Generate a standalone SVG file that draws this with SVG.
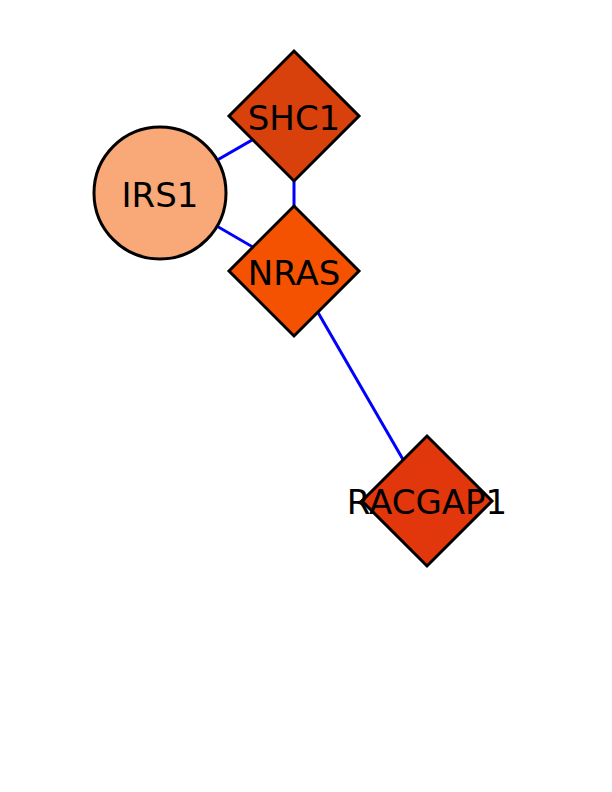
<svg xmlns="http://www.w3.org/2000/svg" width="612" height="792" viewBox="0 0 612 792">
<style>
.edge{stroke:#0000ff;stroke-width:3;fill:none}
.node{stroke:#000;stroke-width:3}
.lbl{font-family:"DejaVu Sans",sans-serif;font-size:34px;fill:#000;text-anchor:middle}
</style>
<rect width="612" height="792" fill="#fff"/>
<g id="edges">
<line class="edge" x1="160" y1="193" x2="294" y2="116"/>
<line class="edge" x1="160" y1="193" x2="294" y2="271"/>
<line class="edge" x1="294" y1="116" x2="294" y2="271"/>
<line class="edge" x1="294" y1="271" x2="427" y2="501"/>
</g>
<g id="IRS1">
<circle class="node" cx="160" cy="193" r="66" fill="#f9a878"/>
<text class="lbl" x="160" y="207">IRS1</text>
</g>
<g id="SHC1">
<polygon class="node" points="294,51 359,116 294,181 229,116" fill="#d8400c"/>
<text class="lbl" x="294" y="130">SHC1</text>
</g>
<g id="NRAS">
<polygon class="node" points="294,206 359,271 294,336 229,271" fill="#f45200"/>
<text class="lbl" x="294" y="285">NRAS</text>
</g>
<g id="RACGAP1">
<polygon class="node" points="427,436 492,501 427,566 362,501" fill="#e2360c"/>
<text class="lbl" x="427" y="514">RACGAP1</text>
</g>
</svg>
